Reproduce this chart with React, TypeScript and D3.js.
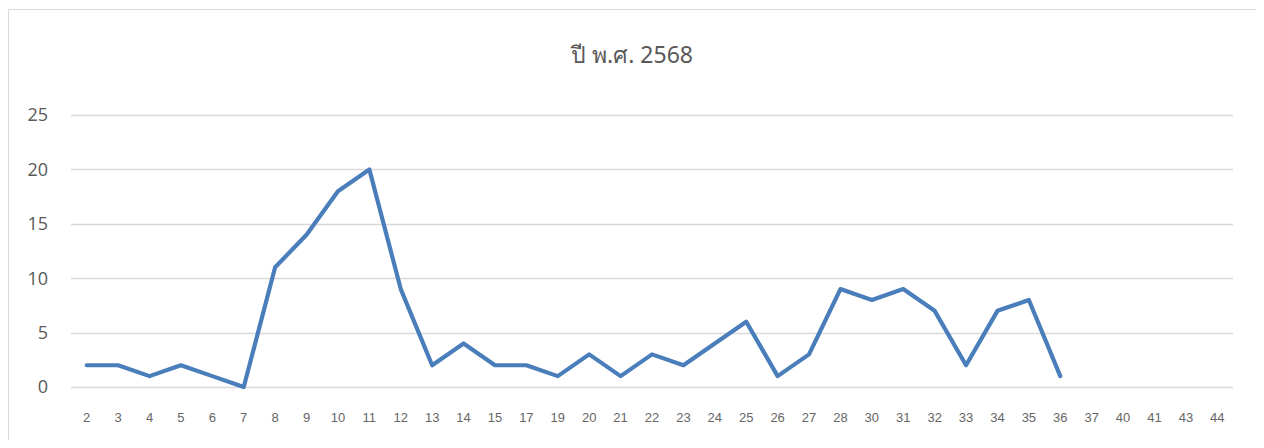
import React, { useEffect, useRef } from "react";
import * as d3 from "d3";

const categories = ["2","3","4","5","6","7","8","9","10","11","12","13","14","15","17","19","20","21","22","23","24","25","26","27","28","30","31","32","33","34","35","36","37","40","41","43","44"];
const values: (number | null)[] = [2,2,1,2,1,0,11,14,18,20,9,2,4,2,2,1,3,1,3,2,4,6,1,3,9,8,9,7,2,7,8,1,null,null,null,null,null];
const yTicks = [0, 5, 10, 15, 20, 25];
const title = "ปี พ.ศ. 2568";

export default function App() {
  const ref = useRef<SVGSVGElement>(null);
  useEffect(() => {
    const svg = d3.select(ref.current);
    svg.selectAll("*").remove();
    const W = 1254, H = 432;
    const left = 63, right = 1225, top = 107, bottom = 379;
    svg.append("rect").attr("x", 0.5).attr("y", 1.5).attr("width", W - 1).attr("height", H + 20)
      .attr("fill", "#fff").attr("stroke", "#d9d9d9").attr("stroke-width", 1);

    const x = d3.scaleBand().domain(categories).range([left, right]);
    const y = d3.scaleLinear().domain([0, 25]).range([bottom, top]);

    svg.append("g").selectAll("line").data(yTicks).join("line")
      .attr("x1", left).attr("x2", right)
      .attr("y1", d => Math.round(y(d)) + 0.5).attr("y2", d => Math.round(y(d)) + 0.5)
      .attr("stroke", "#d9d9d9").attr("stroke-width", 1.3);

    svg.append("g").selectAll("text").data(yTicks).join("text")
      .attr("x", 40).attr("y", d => y(d)).attr("dy", "0.35em")
      .attr("text-anchor", "end")
      .attr("font-family", "'Open Sans', 'Noto Sans', sans-serif")
      .attr("font-size", 18).attr("fill", "#595959")
      .text(d => String(d));

    svg.append("g").selectAll("text").data(categories).join("text")
      .attr("x", d => (x(d) as number) + x.bandwidth() / 2).attr("y", 409).attr("dy", "0.35em")
      .attr("text-anchor", "middle")
      .attr("font-family", "'Liberation Sans Narrow', 'Liberation Sans', Arial, sans-serif")
      .attr("font-size", 13).attr("fill", "#666")
      .text(d => d);

    const line = d3.line<number | null>()
      .defined(d => d !== null)
      .x((_, i) => (x(categories[i]) as number) + x.bandwidth() / 2)
      .y(d => y(d as number));
    svg.append("path").datum(values).attr("d", line)
      .attr("fill", "none").attr("stroke", "#4a7ebb").attr("stroke-width", 4.2)
      .attr("stroke-linejoin", "round").attr("stroke-linecap", "round");

    svg.append("text").attr("x", 624).attr("y", 47).attr("dy", "0.35em")
      .attr("text-anchor", "middle")
      .attr("font-family", "'Noto Sans', 'Open Sans', sans-serif")
      .attr("font-size", 23).attr("fill", "#595959")
      .text(title);
  }, []);
  return <svg ref={ref} width={1254} height={432} style={{ display: "block", overflow: "hidden" }} />;
}
